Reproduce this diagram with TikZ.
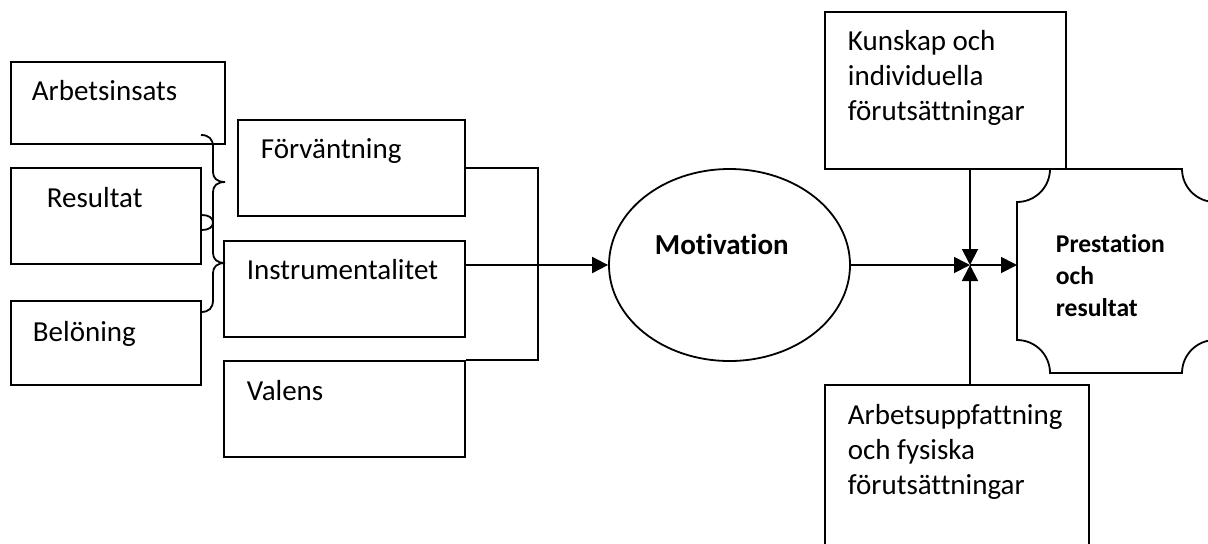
\documentclass[tikz,border=0pt]{standalone}
\usepackage{fontspec}
\setmainfont{Carlito}[Ligatures=NoCommon]
\usetikzlibrary{arrows.meta,shapes.geometric}

\begin{document}
\begin{tikzpicture}[x=0.5pt, y=-0.5pt, line width=0.9pt,
    box/.style={draw, rectangle, inner sep=0pt},
    txt/.style={anchor=base west, inner sep=0pt, align=left, font=\fontsize{14.5}{17.5}\selectfont},
    arr/.style={-{Triangle[length=8pt,width=8pt]}}]
    \useasboundingbox (0,0) rectangle (1208,543);
    \clip (0,0) rectangle (1208,543);

    % Inputs (left column)
    \node[box, minimum width=107pt, minimum height=41pt] (arb) at (118,103) {};
    \node[box, minimum width=95pt, minimum height=48pt] (res) at (106,216) {};
    \node[box, minimum width=95pt, minimum height=42pt] (bel) at (106,343) {};
    \node[txt] (arbT) at (31,100) {Arbetsinsats};
    \node[txt] (resT) at (46,207) {Resultat};
    \node[txt] (belT) at (32,341) {Belöning};

    % Brace
    \draw (201,135) .. controls (209,135) and (213,139) .. (213,147) -- (213,172)
        .. controls (213,178) and (217,182) .. (225,182)
        .. controls (217,182) and (213,186) .. (213,192) -- (213,253)
        .. controls (213,259) and (217,263) .. (225,263)
        .. controls (217,263) and (213,267) .. (213,273) -- (213,300)
        .. controls (213,308) and (209,312) .. (201,312);
    \draw (res.east |- 0,215) .. controls (209,215) and (213,218) .. (213,222.5)
        .. controls (213,227) and (209,230) .. (res.east |- 0,230);

    % Expectancy factors
    \node[box, minimum width=113.5pt, minimum height=48pt] (forv) at (351.5,168) {};
    \node[box, minimum width=120.5pt, minimum height=48pt] (instr) at (344.5,289) {};
    \node[box, minimum width=120.5pt, minimum height=48pt] (val) at (344.5,409) {};
    \node[txt] (forvT) at (260,158) {Förväntning};
    \node[txt] (instrT) at (246,279) {Instrumentalitet};
    \node[txt] (valT) at (246,400) {Valens};
    \draw (forv.east) -| ([xshift=36pt]val.north east) -- (val.north east);

    % Motivation
    \node[draw, ellipse, inner sep=0pt, minimum width=120.5pt, minimum height=96pt] (mot) at (729.5,265) {};
    \node[txt, font=\fontsize{14.5}{17.5}\selectfont\bfseries] (motT) at (654,254) {Motivation};
    \draw[arr] (instr.east |- mot.west) -- (mot.west);

    % Moderators
    \node[box, minimum width=120.5pt, minimum height=78.5pt] (kun) at (945.5,90.5) {};
    \node[box, minimum width=132pt, minimum height=87.5pt] (arbup) at (957,472.5) {};
    \node[txt] (kunT) at (847,120) {Kunskap och\\individuella\\förutsättningar};
    \node[txt] (arbupT) at (847,494) {Arbetsuppfattning\\och fysiska\\förutsättningar};

    % Performance (plaque)
    \draw (1050,169) -- (1182,169) .. controls (1182,187.2) and (1196.8,202) .. (1215,202)
        -- (1215,340) .. controls (1196.8,340) and (1182,354.8) .. (1182,373)
        -- (1050,373) .. controls (1050,354.8) and (1035.2,340) .. (1017,340)
        -- (1017,202) .. controls (1035.2,202) and (1050,187.2) .. (1050,169);
    \coordinate (pres) at (1017,265);
    \node[txt, font=\fontsize{12.8}{16}\selectfont\bfseries] (presT) at (1055,316) {Prestation\\och\\resultat};

    % Junction arrows
    \coordinate (jn) at (970,265);
    \draw[arr] (mot.east) -- (jn);
    \draw[arr] (jn |- kun.south) -- (jn);
    \draw[arr] (jn |- arbup.north) -- (jn);
    \draw[arr] (jn) -- (pres);
\end{tikzpicture}
\end{document}
